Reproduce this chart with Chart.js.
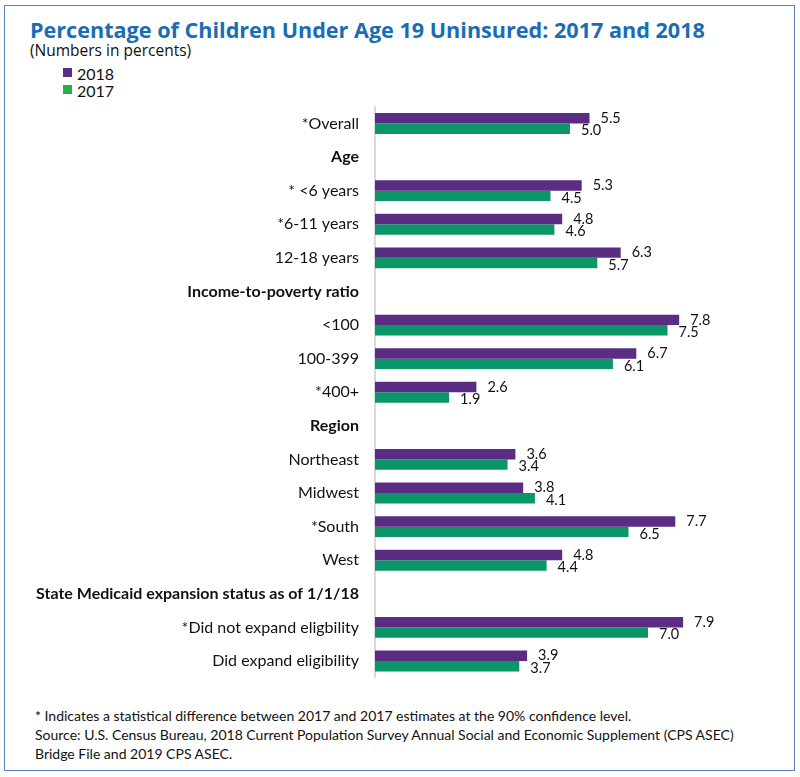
<!DOCTYPE html>
<html>
<head>
<meta charset="utf-8">
<script src="https://cdn.jsdelivr.net/npm/chart.js@4"></script>
<style>
  html, body { margin: 0; padding: 0; background: #fff; }
  #wrap { position: relative; width: 800px; height: 777px; background: #fff; overflow: hidden; }
  #frame { position: absolute; left: 4px; top: 5px; width: 789px; height: 764px; border: 1.5px solid #5a80bd; }
  .t { position: absolute; white-space: nowrap; line-height: 1; }
  #title { left: 30px; top: 15px; font: bold 21.6px "Open Sans", sans-serif; color: #1a6db5; }
  #sub { left: 30px; top: 39px; font: 15.5px "Open Sans", sans-serif; color: #111; }
  .sw { position: absolute; width: 9px; height: 9px; }
  .lg { font: 16px Lato, sans-serif; color: #111; }
  .fn { left: 35px; font: 14px Lato, sans-serif; color: #111; }
  #c { position: absolute; left: 0; top: 100px; }
</style>
</head>
<body>
<div id="wrap">
  <div id="frame"></div>
  <div class="t" id="title">Percentage of Children Under Age 19 Uninsured: 2017 and 2018</div>
  <div class="t" id="sub">(Numbers in percents)</div>
  <div class="sw" id="sw1" style="left:63px; top:68px;"></div>
  <div class="t lg" style="left:77px; top:64px;" id="lg1"></div>
  <div class="sw" id="sw2" style="left:63px; top:85px;"></div>
  <div class="t lg" style="left:77px; top:81px;" id="lg2"></div>
  <canvas id="c" width="800" height="584"></canvas>
  <div class="t fn" style="top:707px;">* Indicates a statistical difference between 2017 and 2017 estimates at the 90% confidence level.</div>
  <div class="t fn" style="top:726px;">Source: U.S. Census Bureau, 2018 Current Population Survey Annual Social and Economic Supplement (CPS ASEC)</div>
  <div class="t fn" style="top:745px;">Bridge File and 2019 CPS ASEC.</div>
</div>
<script>
const categories = [
  "*Overall",
  "Age",
  "* <6 years",
  "*6-11 years",
  "12-18 years",
  "Income-to-poverty ratio",
  "<100",
  "100-399",
  "*400+",
  "Region",
  "Northeast",
  "Midwest",
  "*South",
  "West",
  "State Medicaid expansion status as of 1/1/18",
  "*Did not expand eligbility",
  "Did expand eligibility"
];
const headerLabels = ["Age", "Income-to-poverty ratio", "Region", "State Medicaid expansion status as of 1/1/18"];
const series2018 = [5.5, null, 5.3, 4.8, 6.3, null, 7.8, 6.7, 2.6, null, 3.6, 3.8, 7.7, 4.8, null, 7.9, 3.9];
const series2017 = [5.0, null, 4.5, 4.6, 5.7, null, 7.5, 6.1, 1.9, null, 3.4, 4.1, 6.5, 4.4, null, 7.0, 3.7];
const seriesNames = ["2018", "2017"];
const barColors = ["#5b2c83", "#0b9668"];
const legendColors = ["#5b2c8a", "#22b04b"];

document.getElementById('sw1').style.background = legendColors[0];
document.getElementById('sw2').style.background = legendColors[1];
document.getElementById('lg1').textContent = seriesNames[0];
document.getElementById('lg2').textContent = seriesNames[1];

const valueLabels = {
  id: 'valueLabels',
  afterDatasetsDraw(chart) {
    const ctx = chart.ctx;
    ctx.save();
    ctx.font = '14.5px Lato, sans-serif';
    ctx.fillStyle = '#111';
    ctx.textAlign = 'left';
    ctx.textBaseline = 'middle';
    chart.data.datasets.forEach((ds, di) => {
      const meta = chart.getDatasetMeta(di);
      meta.data.forEach((bar, i) => {
        const v = ds.data[i];
        if (v === null || v === undefined) return;
        ctx.fillText(v.toFixed(1), bar.x + 11, bar.y + (di === 0 ? 0 : 2));
      });
    });
    ctx.restore();
  }
};

new Chart(document.getElementById('c'), {
  type: 'bar',
  data: {
    labels: categories,
    datasets: [
      { label: seriesNames[0], data: series2018, backgroundColor: barColors[0] },
      { label: seriesNames[1], data: series2017, backgroundColor: barColors[1] }
    ]
  },
  options: {
    indexAxis: 'y',
    responsive: false,
    animation: false,
    categoryPercentage: 0.62,
    barPercentage: 1.0,
    layout: { padding: { top: 6.7, bottom: 6.2, left: 0, right: 35 } },
    plugins: { legend: { display: false }, tooltip: { enabled: false } },
    scales: {
      x: { display: false, min: 0, max: 10 },
      y: {
        afterFit(scale) { scale.width = 375; scale.paddingTop = 0; scale.paddingBottom = 0; },
        grid: { display: false, drawTicks: false },
        border: { display: true, color: '#d9d9d9', width: 2 },
        ticks: {
          padding: 16,
          color: '#111',
          font: (c) => ({
            family: 'Lato',
            size: 16,
            weight: headerLabels.includes(categories[c.index]) ? 'bold' : 'normal'
          })
        }
      }
    }
  },
  plugins: [valueLabels]
});
</script>
</body>
</html>
